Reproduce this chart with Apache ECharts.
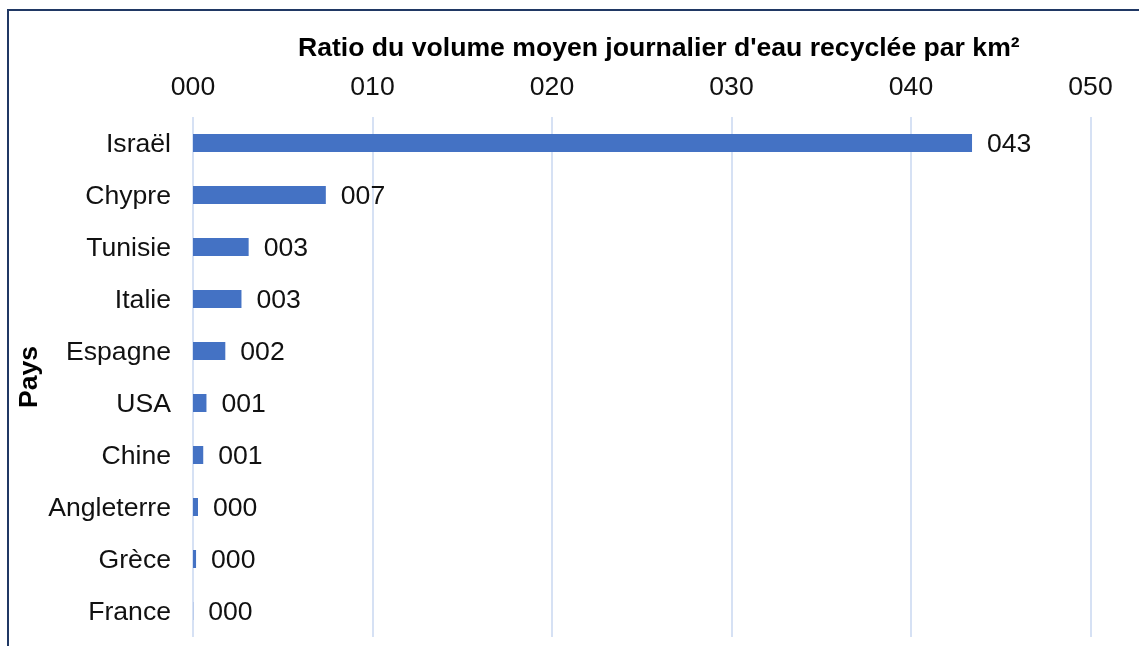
<!DOCTYPE html>
<html>
<head>
    <meta charset="utf-8">
    <title>Ratio eau recyclée</title>
    <script src="https://cdn.jsdelivr.net/npm/echarts@6/dist/echarts.min.js"></script>
    <style>
        body { margin: 0; background: #fff; }
    </style>
</head>
<body>
    <div id="main" style="width:1139px;height:646px;"></div>
    <script type="text/javascript">
        // pays, du haut vers le bas
        var pays = ['Israël', 'Chypre', 'Tunisie', 'Italie', 'Espagne', 'USA', 'Chine', 'Angleterre', 'Grèce', 'France'];
        // ratio du volume moyen journalier d'eau recyclée par km²
        var ratios = [43.4, 7.4, 3.1, 2.7, 1.8, 0.75, 0.57, 0.28, 0.17, 0.01];
        var ticks = [0, 10, 20, 30, 40, 50];

        var font = "'Liberation Sans', Arial, sans-serif";
        var fs = 26.6;

        // format Excel "000"
        function fmt(v) {
            var s = String(Math.round(v));
            while (s.length < 3) s = '0' + s;
            return s;
        }

        var myChart = echarts.init(document.getElementById('main'));
        var option = {
            animation: false,
            title: {
                text: "Ratio du volume moyen journalier d'eau recyclée par km²",
                left: 293,
                top: 30,
                textStyle: { fontFamily: font, fontSize: fs, fontWeight: 'bold', color: '#000' }
            },
            graphic: [{
                type: 'rect',
                shape: { x: 8, y: 10, width: 1200, height: 700 },
                style: { fill: 'none', stroke: '#203864', lineWidth: 2 }
            }],
            grid: { left: 193, right: 48.5, top: 117, bottom: 9, containLabel: false },
            xAxis: {
                type: 'value',
                position: 'top',
                min: ticks[0],
                max: ticks[ticks.length - 1],
                interval: 10,
                axisLine: { show: false },
                axisTick: { show: false },
                axisLabel: {
                    margin: 16,
                    fontFamily: font, fontSize: fs, color: '#111',
                    formatter: function (v) { return fmt(v); }
                },
                splitLine: { lineStyle: { color: '#D6E1F4', width: 2 } }
            },
            yAxis: {
                type: 'category',
                data: pays,
                inverse: true,
                name: 'Pays',
                nameLocation: 'middle',
                nameRotate: 90,
                nameGap: 150,
                nameMoveOverlap: false,
                nameTextStyle: { fontFamily: font, fontSize: fs, fontWeight: 'bold', color: '#000' },
                axisLine: { show: false },
                axisTick: { show: false },
                axisLabel: {
                    margin: 22,
                    verticalAlign: 'top',
                    lineHeight: 4,
                    fontFamily: font, fontSize: fs, color: '#111'
                }
            },
            series: [{
                type: 'bar',
                data: ratios,
                barWidth: 18,
                itemStyle: { color: '#4472C4' },
                label: {
                    show: true,
                    position: 'right',
                    distance: 15,
                    offset: [0, 2],
                    fontFamily: font, fontSize: fs, color: '#111',
                    formatter: function (p) { return fmt(p.value); }
                }
            }]
        };
        myChart.setOption(option);
    </script>
</body>
</html>
